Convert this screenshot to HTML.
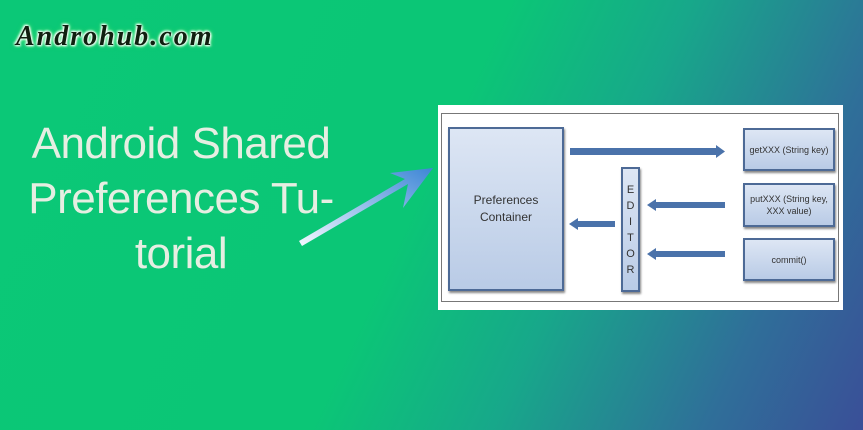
<!DOCTYPE html>
<html><head><meta charset="utf-8"><style>
body{margin:0;width:863px;height:430px;overflow:hidden;position:relative;font-family:"Liberation Sans",sans-serif;
background:linear-gradient(115deg,#0bc877 0%,#0bc676 48%,#17a88a 65%,#2f6f99 85%,#3a4f98 100%);}
.abs{position:absolute}
.logo{left:16px;top:21px;font:italic bold 28px "Liberation Serif",serif;color:#102010;letter-spacing:2px;
text-shadow:0 0 2px #fff,0 0 3px #fff,1px 1px 2px #dfe,-1px -1px 2px #dfe,0 0 6px #6f6;}
.title{left:0;width:362px;top:116px;text-align:center;color:#e6eee2;font-size:44px;line-height:55px;letter-spacing:-0.5px}
.panel{left:438px;top:105px;width:405px;height:205px;background:#fff}
.inner{left:441px;top:113px;width:398px;height:189px;border:1px solid #777;box-sizing:border-box}
.box{background:linear-gradient(#dde6f4,#b9cbe6);border:2px solid #4d6a96;box-sizing:border-box;box-shadow:1px 2px 2px #888;
display:flex;align-items:center;justify-content:center;text-align:center;color:#333;font-size:9px;line-height:12px}
</style></head><body>
<div class="abs logo">Androhub.com</div>
<div class="abs title">Android Shared<br>Preferences Tu-<br>torial</div>
<svg class="abs" style="left:0;top:0" width="863" height="430">
<defs><linearGradient id="g" x1="0" y1="1" x2="1" y2="0"><stop offset="0" stop-color="#f4f8ff"/><stop offset="1" stop-color="#3d86d6"/></linearGradient></defs>
<polygon points="299,241 302,246 408,184 403,208 433,168 390,173 405,179" fill="url(#g)"/>
</svg>
<div class="abs panel"></div>
<div class="abs inner"></div>
<div class="abs box" style="left:448px;top:127px;width:116px;height:164px;font-size:12px;line-height:17px">Preferences<br>Container</div>
<div class="abs box" style="left:743px;top:128px;width:92px;height:43px">getXXX (String key)</div>
<div class="abs box" style="left:743px;top:183px;width:92px;height:44px">putXXX (String key,<br>XXX value)</div>
<div class="abs box" style="left:743px;top:238px;width:92px;height:43px">commit()</div>
<div class="abs box" style="left:621px;top:167px;width:19px;height:125px;font-size:11px;line-height:16px;flex-direction:column">E<br>D<br>I<br>T<br>O<br>R</div>
<svg class="abs" style="left:0;top:0" width="863" height="430">
<g fill="#4a72aa">
<rect x="570" y="148" width="148" height="7"/><polygon points="716,145 725,151.5 716,158"/>
<rect x="655" y="202" width="70" height="6"/><polygon points="656,199 647,205 656,211"/>
<rect x="655" y="251" width="70" height="6"/><polygon points="656,248 647,254 656,260"/>
<rect x="577" y="221" width="38" height="6"/><polygon points="578,218 569,224 578,230"/>
</g></svg>
</body></html>
